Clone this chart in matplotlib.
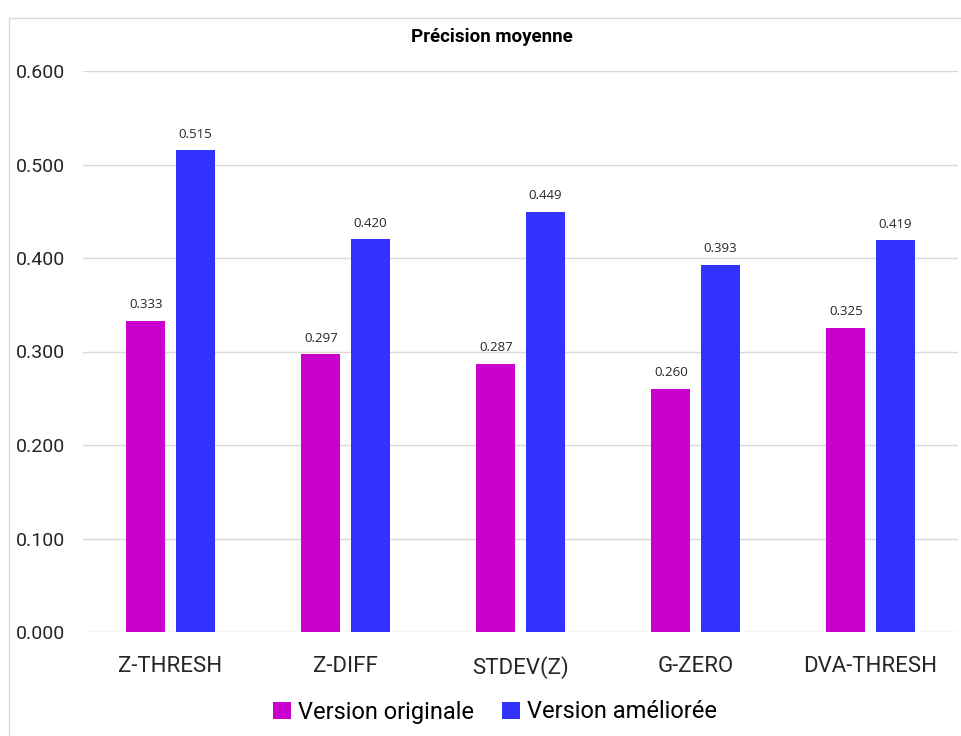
import matplotlib
matplotlib.use("Agg")
import matplotlib.pyplot as plt
import numpy as np
from matplotlib.patches import Rectangle

categories = ["Z-THRESH", "Z-DIFF", "STDEV(Z)", "G-ZERO", "DVA-THRESH"]
original = [0.333, 0.297, 0.287, 0.260, 0.325]
improved = [0.515, 0.420, 0.449, 0.393, 0.419]
series_names = ["Version originale", "Version améliorée"]
yticks = [0.0, 0.1, 0.2, 0.3, 0.4, 0.5, 0.6]

font = "Roboto"
c_orig = "#CC00CC"
c_impr = "#3333FF"

fig = plt.figure(figsize=(9.61, 7.36), dpi=100)
ax = fig.add_axes([83 / 961, 1 - 632 / 736, 875 / 961, 561 / 736])

# chart frame
fig.patches.append(Rectangle((9 / 961, -0.05), 1.2, 1 - 18 / 736 + 0.05,
                             transform=fig.transFigure, fill=False,
                             edgecolor="#D9D9D9", linewidth=1.0))

x = np.arange(len(categories))
w = 0.223
off = 0.141
b1 = ax.bar(x - off, original, w, color=c_orig, label=series_names[0], zorder=3)
b2 = ax.bar(x + off, improved, w, color=c_impr, label=series_names[1], zorder=3)

for bars, vals in ((b1, original), (b2, improved)):
    for r, v in zip(bars, vals):
        ax.annotate(f"{v:.3f}", (r.get_x() + r.get_width() / 2, v),
                    xytext=(0, 7), textcoords="offset points",
                    ha="center", va="bottom", fontsize=9.5,
                    family="Open Sans", color="#262626")

ax.set_xlim(-0.5, len(categories) - 0.5)
ax.set_ylim(0, 0.6)
ax.set_yticks(yticks)
ax.set_yticklabels([f"{t:.3f}" for t in yticks], family=font, fontsize=14, color="#262626")
ax.set_xticks(x)
ax.set_xticklabels(categories, family=font, fontsize=16, color="#262626")
ax.tick_params(axis="both", length=0)
ax.tick_params(axis="y", pad=13)
ax.tick_params(axis="x", pad=17)
ax.grid(axis="y", color="#D9D9D9", linewidth=1.0, zorder=0)
for s in ax.spines.values():
    s.set_visible(False)

fig.text(492 / 961, 1 - 37 / 736, "Précision moyenne", ha="center", va="center",
         fontsize=13.5, fontweight="bold", family=font, color="#000000")

fig.legend(handles=[b1, b2], labels=series_names, loc="center",
           bbox_to_anchor=(495 / 961, 1 - 712 / 736), ncol=2, frameon=False,
           prop={"family": font, "size": 17}, handlelength=0.75,
           handleheight=0.75, handletextpad=0.3, columnspacing=1.2)

fig.savefig("out.png", dpi=100)
